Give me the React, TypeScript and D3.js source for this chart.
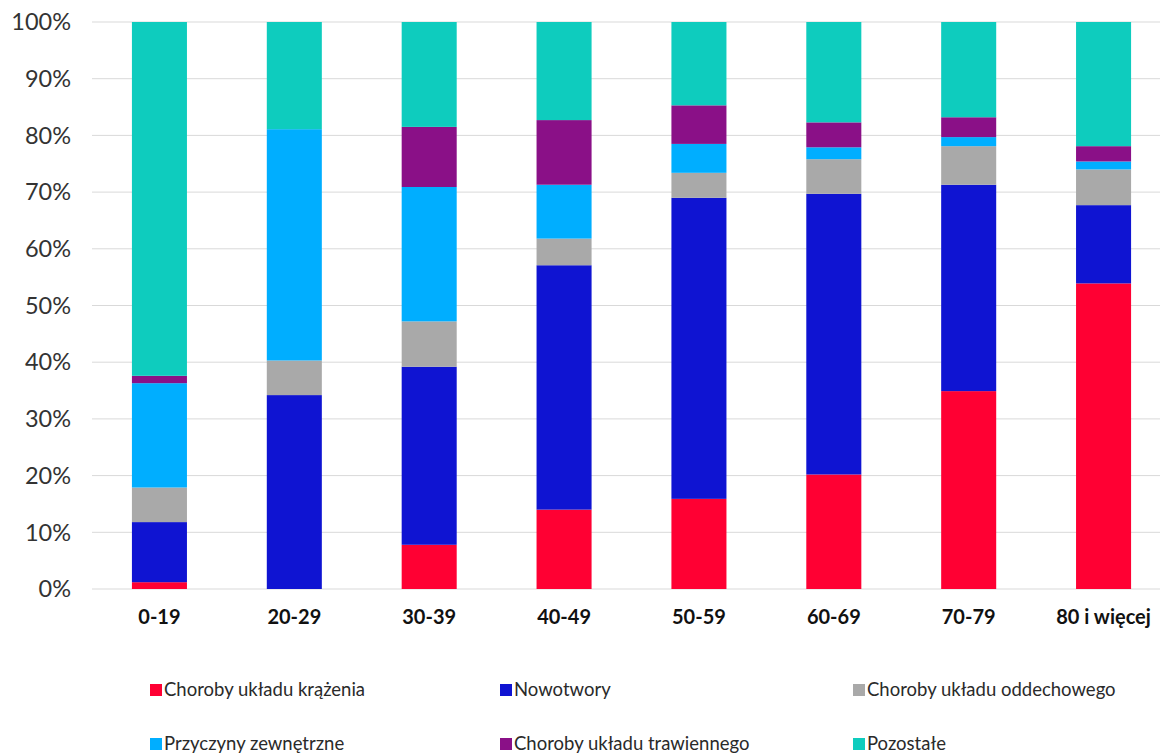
import React from "react";
import * as d3 from "d3";

const categories = ["0-19", "20-29", "30-39", "40-49", "50-59", "60-69", "70-79", "80 i więcej"];
const seriesNames = [
  "Choroby układu krążenia",
  "Nowotwory",
  "Choroby układu oddechowego",
  "Przyczyny zewnętrzne",
  "Choroby układu trawiennego",
  "Pozostałe",
];
const krazenia = [1.2, 0, 7.8, 14.0, 15.9, 20.2, 34.9, 53.9];
const nowotwory = [10.6, 34.2, 31.4, 43.1, 53.1, 49.5, 36.4, 13.8];
const oddechowe = [6.1, 6.1, 8.0, 4.7, 4.4, 6.1, 6.8, 6.3];
const zewnetrzne = [18.4, 40.8, 23.7, 9.5, 5.1, 2.1, 1.6, 1.4];
const trawienne = [1.3, 0, 10.6, 11.4, 6.8, 4.4, 3.5, 2.7];
const pozostale = [62.4, 18.9, 18.5, 17.3, 14.7, 17.7, 16.8, 21.9];
const yTicks = [0, 10, 20, 30, 40, 50, 60, 70, 80, 90, 100];

const colors = ["#FF0033", "#0F14D2", "#A9A9A9", "#00AEFF", "#8A1087", "#0ECCBE"];

export default function App() {
  const W = 1160;
  const H = 753;
  const seriesValues = [krazenia, nowotwory, oddechowe, zewnetrzne, trawienne, pozostale];
  const rows = categories.map((c, i) => {
    const r: any = { cat: c };
    seriesNames.forEach((s, j) => (r[s] = seriesValues[j][i]));
    return r;
  });
  const stack = d3.stack().keys(seriesNames)(rows as any);
  const x = d3.scaleBand().domain(categories).range([92, 1171]).paddingInner(0.592).paddingOuter(0.296);
  const y = d3.scaleLinear().domain([0, 100]).range([589, 22]);
  const font = "Lato, 'Open Sans', sans-serif";

  const legendPos = [
    [150, 690],
    [500, 690],
    [853, 690],
    [150, 744],
    [500, 744],
    [853, 744],
  ];

  return (
    <svg width={W} height={H} style={{ position: "absolute", left: 0, top: 0 }}>
      <rect width={W} height={H} fill="#fff" />
      {yTicks.map((t) => (
        <g key={t}>
          <line x1={92} x2={1171} y1={y(t)} y2={y(t)} stroke="#d9d9d9" strokeWidth={1} />
          <text x={71} y={y(t)} dy="0.35em" textAnchor="end" fontFamily={font} fontSize={23.5} fill="#333">
            {t}%
          </text>
        </g>
      ))}
      {stack.map((s, j) => (
        <g key={j} fill={colors[j]}>
          {s.map((d: any, i: number) => (
            <rect
              key={i}
              x={x(categories[i])}
              width={x.bandwidth()}
              y={y(d[1])}
              height={Math.max(0, y(d[0]) - y(d[1]))}
            />
          ))}
        </g>
      ))}
      {categories.map((c) => (
        <text
          key={c}
          x={(x(c) as number) + x.bandwidth() / 2}
          y={617}
          dy="0.35em"
          textAnchor="middle"
          fontFamily={font}
          fontWeight="bold"
          fontSize={20}
          fill="#111"
        >
          {c}
        </text>
      ))}
      {seriesNames.map((s, j) => (
        <g key={s}>
          <rect x={legendPos[j][0]} y={legendPos[j][1] - 6} width={12} height={12} fill={colors[j]} />
          <text
            x={legendPos[j][0] + 14}
            y={legendPos[j][1]}
            dy="0.35em"
            fontFamily={font}
            fontSize={18.5}
            fill="#2a2a2a"
          >
            {s}
          </text>
        </g>
      ))}
    </svg>
  );
}
